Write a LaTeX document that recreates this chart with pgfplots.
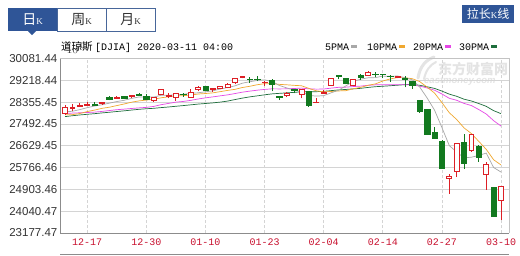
\documentclass[border=0pt]{standalone}
\usepackage{fontspec}
\setmainfont{Liberation Sans}
\newfontfamily\cjk{Noto Sans CJK SC}
\newfontfamily\mono{Liberation Mono}
\newfontfamily\serifk{Liberation Serif}
\usepackage{pgfplots}
\pgfplotsset{compat=1.18}
\definecolor{upred}{HTML}{DD1F26}
\definecolor{dngreen}{HTML}{12791F}
\definecolor{tabblue}{HTML}{2F5597}
\definecolor{tabborder}{HTML}{47669A}
\definecolor{ma5}{HTML}{A8A8A8}
\definecolor{ma10}{HTML}{F0A830}
\definecolor{ma20}{HTML}{E648E6}
\definecolor{ma30}{HTML}{1E6E3C}
\definecolor{xlab}{HTML}{C8102E}
\definecolor{ylab}{HTML}{333333}
\definecolor{gridc}{HTML}{D4D4D4}
\definecolor{framec}{HTML}{8C8C8C}
\definecolor{wmark}{HTML}{E4E4E4}
% candle: index, open, high, low, close
\newcommand\cu[5]{%
  \pgfmathsetmacro\xl{#1-0.33}\pgfmathsetmacro\xr{#1+0.33}%
  \addplot[upred, line width=0.8pt, mark=none] coordinates {(#1,#4)(#1,#3)};
  \addplot[draw=upred, fill=white, line width=0.8pt, mark=none] coordinates {(\xl,#2)(\xr,#2)(\xr,#5)(\xl,#5)(\xl,#2)} -- cycle;
}
\newcommand\cd[5]{%
  \pgfmathsetmacro\xl{#1-0.36}\pgfmathsetmacro\xr{#1+0.36}%
  \addplot[dngreen, line width=0.8pt, mark=none] coordinates {(#1,#4)(#1,#3)};
  \addplot[draw=dngreen, fill=dngreen, line width=0.5pt, mark=none] coordinates {(\xl,#2)(\xr,#2)(\xr,#5)(\xl,#5)(\xl,#2)} -- cycle;
}
\begin{document}
\begin{tikzpicture}
\useasboundingbox (0,0) rectangle (520pt,-255pt);
\fill[white] (0,0) rectangle (520pt,-255pt);
% tabs
\fill[tabblue] (8pt,-8pt) rectangle (57pt,-31pt);
\fill[tabblue] (28pt,-31pt) -- (36pt,-31pt) -- (32pt,-35pt) -- cycle;
\draw[tabborder, line width=0.6pt] (57pt,-8pt) rectangle (106pt,-31pt);
\draw[tabborder, line width=0.6pt] (106pt,-8pt) rectangle (155pt,-31pt);
\node[text=white, inner sep=0] at (32.5pt,-19.5pt) {\cjk\fontsize{14}{14}\selectfont 日{\serifk\fontsize{9}{9}\selectfont K}};
\node[text=ylab, inner sep=0] at (81.5pt,-19.5pt) {\cjk\fontsize{14}{14}\selectfont 周{\serifk\fontsize{9}{9}\selectfont K}};
\node[text=ylab, inner sep=0] at (130.5pt,-19.5pt) {\cjk\fontsize{14}{14}\selectfont 月{\serifk\fontsize{9}{9}\selectfont K}};
% button
\fill[tabblue] (462pt,-5pt) rectangle (514pt,-23pt);
\node[text=white, inner sep=0] at (488pt,-14pt) {\cjk\fontsize{12}{12}\selectfont 拉长{\serifk\fontsize{9}{9}\selectfont K}线};
% title
\node[anchor=base west, inner sep=0, text=black] at (61pt,-50.5pt) {\cjk\fontsize{10.5}{11}\selectfont 道琼斯};
\node[anchor=base west, inner sep=0, text=black] at (95pt,-50.5pt) {\mono\fontsize{10}{10}\selectfont [DJIA] 2020-03-11 04:00};
% legend
\node[anchor=base west, inner sep=0, text=black] at (325pt,-50pt) {\mono\fontsize{10}{10}\selectfont 5PMA};
\fill[ma5] (351pt,-45pt) rectangle (357pt,-48pt);
\node[anchor=base west, inner sep=0, text=black] at (367pt,-50pt) {\mono\fontsize{10}{10}\selectfont 10PMA};
\fill[ma10] (399pt,-45pt) rectangle (405pt,-48pt);
\node[anchor=base west, inner sep=0, text=black] at (413pt,-50pt) {\mono\fontsize{10}{10}\selectfont 20PMA};
\fill[ma20] (445pt,-45pt) rectangle (451pt,-48pt);
\node[anchor=base west, inner sep=0, text=black] at (459pt,-50pt) {\mono\fontsize{10}{10}\selectfont 30PMA};
\fill[ma30] (491pt,-45pt) rectangle (497pt,-48pt);
% watermark
\draw[wmark, line width=3pt, line cap=round] (418pt,-78pt) .. controls (420pt,-66pt) and (426pt,-60pt) .. (434pt,-57pt);
\draw[wmark, line width=2pt, line cap=round] (424pt,-79pt) .. controls (426pt,-70pt) and (430pt,-65pt) .. (436pt,-62pt);
\node[anchor=west, inner sep=0, text=wmark] at (438pt,-69pt) {\cjk\bfseries\fontsize{14}{14}\selectfont 东方财富网};
\node[anchor=west, inner sep=0, text=wmark] at (424pt,-81pt) {\fontsize{9.5}{9.5}\selectfont\bfseries\itshape eastmoney.com};
\begin{axis}[
  at={(60pt,-233pt)}, anchor=south west,
  scale only axis, width=449pt, height=174.5pt,
  xmin=-0.68, xmax=60.08,
  ymin=23177.47, ymax=30081.44,
  axis line style={draw=none},
  major tick length=0pt,
  ytick={23177.47,24040.47,24903.46,25766.46,26629.45,27492.45,28355.45,29218.44,30081.44},
  yticklabels={23177.47,24040.47,24903.46,25766.46,26629.45,27492.45,28355.45,29218.44,30081.44},
  xtick={3,11,19,27,35,43,51,59},
  xticklabels={12-17,12-30,01-10,01-23,02-04,02-14,02-27,03-10},
  ymajorgrids, xmajorgrids,
  y grid style={gridc, line width=0.6pt},
  x grid style={gridc, line width=0.6pt, dash pattern=on 3pt off 2pt},
  yticklabel style={font=\fontsize{11.5}{12}\selectfont, text=ylab, inner xsep=2.5pt},
  xticklabel style={font=\mono\fontsize{10}{10}\selectfont, text=xlab, yshift=-2.5pt},
  clip=true,
]
% moving averages
\addplot[ma30, line width=0.7pt, mark=none] coordinates {
(0,27782)(1,27818)(2,27848)(3,27874)(4,27899)(5,27929)(6,27955)(7,27984)(8,28011)(9,28042)
(10,28071)(11,28094)(12,28111)(13,28139)(14,28163)(15,28192)(16,28219)(17,28248)(18,28278)(19,28301)
(20,28326)(21,28356)(22,28397)(23,28457)(24,28514)(25,28564)(26,28603)(27,28645)(28,28682)(29,28703)
(30,28722)(31,28742)(32,28763)(33,28763)(34,28768)(35,28783)(36,28810)(37,28838)(38,28858)(39,28879)
(40,28901)(41,28937)(42,28966)(43,28984)(44,29004)(45,29025)(46,29047)(47,29055)(48,29022)(49,28963)
(50,28899)(51,28793)(52,28672)(53,28586)(54,28471)(55,28401)(56,28299)(57,28189)(58,28018)(59,27900)};
\addplot[ma20, line width=0.7pt, mark=none] coordinates {
(0,27904)(1,27922)(2,27934)(3,27945)(4,27960)(5,27988)(6,28023)(7,28056)(8,28079)(9,28104)
(10,28128)(11,28148)(12,28186)(13,28254)(14,28304)(15,28355)(16,28383)(17,28425)(18,28479)(19,28525)
(20,28563)(21,28604)(22,28643)(23,28695)(24,28750)(25,28791)(26,28828)(27,28858)(28,28882)(29,28878)
(30,28882)(31,28895)(32,28911)(33,28881)(34,28869)(35,28874)(36,28909)(37,28941)(38,28948)(39,28971)
(40,28990)(41,29020)(42,29040)(43,29045)(44,29039)(45,29047)(46,29048)(47,29040)(48,28988)(49,28916)
(50,28827)(51,28679)(52,28507)(53,28429)(54,28305)(55,28219)(56,28060)(57,27885)(58,27622)(59,27409)};
\addplot[ma10, line width=0.7pt, mark=none] coordinates {
(0,27852)(1,27860)(2,27905)(3,27982)(4,28041)(5,28110)(6,28154)(7,28219)(8,28282)(9,28353)
(10,28404)(11,28437)(12,28467)(13,28527)(14,28567)(15,28600)(16,28612)(17,28632)(18,28676)(19,28696)
(20,28722)(21,28770)(22,28819)(23,28862)(24,28934)(25,28983)(26,29043)(27,29085)(28,29088)(29,29059)
(30,29041)(31,29020)(32,29003)(33,28899)(34,28804)(35,28765)(36,28776)(37,28798)(38,28809)(39,28883)
(40,28938)(41,29020)(42,29077)(43,29191)(44,29274)(45,29328)(46,29321)(47,29282)(48,29168)(49,28948)
(50,28716)(51,28338)(52,27937)(53,27667)(54,27336)(55,27110)(56,26800)(57,26487)(58,26076)(59,25870)};
\addplot[ma5, line width=0.7pt, mark=none] coordinates {
(0,27970)(1,27994)(2,28059)(3,28136)(4,28202)(5,28251)(6,28315)(7,28378)(8,28428)(9,28504)
(10,28558)(11,28559)(12,28556)(13,28627)(14,28630)(15,28641)(16,28666)(17,28707)(18,28725)(19,28763)
(20,28803)(21,28875)(22,28932)(23,29000)(24,29105)(25,29162)(26,29212)(27,29238)(28,29176)(29,29014)
(30,28919)(31,28829)(32,28768)(33,28622)(34,28594)(35,28611)(36,28723)(37,28827)(38,28996)(39,29172)
(40,29265)(41,29317)(42,29326)(43,29385)(44,29376)(45,29390)(46,29324)(47,29238)(48,28951)(49,28520)
(50,28042)(51,27352)(52,26635)(53,26384)(54,26151)(55,26177)(56,26248)(57,26339)(58,25769)(59,25589)};
% candles: index, open, high, low, close
\cu{0}{27912}{28224}{27860}{28132}
\cu{1}{28123}{28290}{28003}{28135}
\cu{2}{28191}{28337}{28191}{28236}
\cu{3}{28240}{28376}{28240}{28267}
\cd{4}{28279}{28362}{28233}{28239}
\cu{5}{28300}{28377}{28244}{28340}
\cd{6}{28565}{28582}{28427}{28455}
\cu{7}{28520}{28608}{28491}{28551}
\cd{8}{28573}{28576}{28503}{28515}
\cu{9}{28575}{28621}{28522}{28610}
\cd{10}{28675}{28701}{28609}{28645}
\cd{11}{28580}{28665}{28429}{28462}
\cu{12}{28415}{28547}{28376}{28538}
\cu{13}{28660}{28873}{28627}{28869}
\cu{14}{28590}{28717}{28500}{28625}
\cu{15}{28530}{28708}{28418}{28703}
\cd{16}{28680}{28700}{28565}{28650}
\cu{17}{28557}{28866}{28541}{28745}
\cu{18}{28852}{28975}{28778}{28957}
\cd{19}{28990}{29009}{28788}{28830}
\cu{20}{28874}{28930}{28768}{28907}
\cu{21}{28895}{29010}{28857}{28960}
\cu{22}{28947}{29127}{28899}{29040}
\cu{23}{29131}{29301}{29058}{29298}
\cu{24}{29340}{29373}{29293}{29360}
\cd{25}{29270}{29341}{29124}{29250}
\cd{26}{29275}{29373}{29176}{29250}
\cu{27}{29130}{29189}{28993}{29150}
\cd{28}{29235}{29266}{28785}{29050}
\cd{29}{28590}{28613}{28433}{28560}
\cu{30}{28630}{28761}{28542}{28710}
\cd{31}{28850}{28893}{28699}{28830}
\cu{32}{28670}{28872}{28500}{28870}
\cd{33}{28770}{28813}{28169}{28240}
\cu{34}{28330}{28517}{28319}{28360}
\cu{35}{28700}{28844}{28696}{28740}
\cu{36}{29030}{29307}{28986}{29280}
\cd{37}{29400}{29408}{29251}{29385}
\cd{38}{29287}{29287}{29060}{29103}
\cu{39}{29030}{29278}{29000}{29260}
\cd{40}{29430}{29450}{29247}{29336}
\cu{41}{29420}{29568}{29401}{29534}
\cd{42}{29467}{29529}{29348}{29450}
\cd{43}{29460}{29481}{29295}{29445}
\cd{44}{29380}{29430}{29155}{29360}
\cu{45}{29339}{29408}{29295}{29360}
\cd{46}{29300}{29371}{28944}{29250}
\cd{47}{29163}{29200}{28883}{29030}
\cd{48}{28415}{28440}{27943}{27978}
\cd{49}{28058}{28060}{27062}{27065}
\cd{50}{27145}{27364}{26916}{26946}
\cd{51}{26790}{26840}{25766}{25758}
\cu{52}{25320}{25500}{24724}{25400}
\cu{53}{25597}{26707}{25391}{26703}
\cd{54}{26750}{27105}{25706}{25954}
\cu{55}{26430}{27105}{26383}{27091}
\cd{56}{26629}{26671}{26006}{26192}
\cu{57}{25478}{25994}{24881}{25875}
\cd{58}{25002}{25002}{23850}{23851}
\cu{59}{24453}{25021}{23690}{25018}
\end{axis}
% frame
\draw[gridc!80!gray, line width=0.6pt] (60pt,-58.5pt) -- (509pt,-58.5pt) -- (509pt,-233pt);
\draw[framec, line width=0.8pt] (60pt,-58.5pt) -- (60pt,-233pt) -- (509pt,-233pt);
\draw[framec, line width=0.8pt] (60pt,-254pt) -- (509pt,-254pt);
\end{tikzpicture}
\end{document}
